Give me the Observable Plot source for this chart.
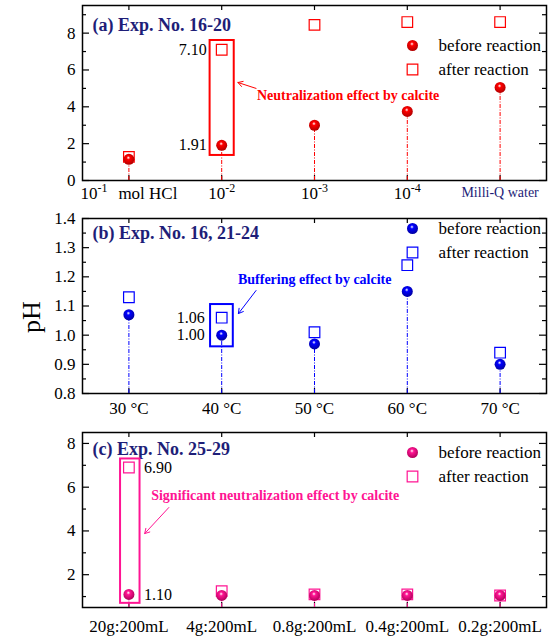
<!DOCTYPE html>
<html><head><meta charset="utf-8">
<script src="https://cdn.jsdelivr.net/npm/d3@7"></script>
<script src="https://cdn.jsdelivr.net/npm/@observablehq/plot@0.6"></script>
<style>
body{margin:0;background:#fff;}
#wrap{position:relative;width:555px;height:639px;font-family:"Liberation Serif","Times New Roman",serif;}
.pan{position:absolute;left:0;}
#ylab{position:absolute;left:32px;top:317px;transform:translate(-50%,-50%) rotate(-90deg);font-size:26px;}
</style></head>
<body><div id="wrap"><div id="ylab">pH</div></div>
<script>
// ---- data ----
const aCats = ["10^-1|mol HCl", "10^-2", "10^-3", "10^-4", "Milli-Q water"];
const aBefore = [1.15, 1.91, 3.00, 3.75, 5.05];
const aAfter = [1.28, 7.10, 8.45, 8.60, 8.60];
const bCats = ["30 °C", "40 °C", "50 °C", "60 °C", "70 °C"];
const bBefore = [1.07, 1.00, 0.97, 1.15, 0.90];
const bAfter = [1.13, 1.06, 1.01, 1.24, 0.94];
const cCats = ["20g:200mL", "4g:200mL", "0.8g:200mL", "0.4g:200mL", "0.2g:200mL"];
const cBefore = [1.10, 1.05, 1.05, 1.05, 1.05];
const cAfter = [6.90, 1.25, 1.10, 1.10, 1.05];
const aYTicks = [0, 2, 4, 6, 8], aYMinor = [1, 3, 5, 7, 9];
const bYTicks = [0.8, 0.9, 1.0, 1.1, 1.2, 1.3, 1.4], bYMinor = [0.85, 0.95, 1.05, 1.15, 1.25, 1.35];
const cYTicks = [2, 4, 6, 8], cYMinor = [1, 3, 5, 7];
const titles = ["(a) Exp. No. 16-20", "(b) Exp. No. 16, 21-24", "(c) Exp. No. 25-29"];
const notes = ["Neutralization effect by calcite", "Buffering effect by calcite", "Significant neutralization effect by calcite"];

const FONT = '"Liberation Serif","Times New Roman",serif';
const NAVY = "#1e1e78";
const W = 555, ML = 82, MR = 9, PW = W - ML - MR, PH = 175;
const idx = [0, 1, 2, 3, 4];

function panel(o) {
  const marks = [
    Plot.frame({stroke: "black", strokeWidth: 1.5}),
    Plot.tickY(o.yTicks, {y: d => d, insetRight: PW - 7, stroke: "black", strokeWidth: 1.2}),
    Plot.tickY(o.yTicks, {y: d => d, insetLeft: PW - 7, stroke: "black", strokeWidth: 1.2}),
    Plot.tickY(o.yMinor, {y: d => d, insetRight: PW - 4, stroke: "black", strokeWidth: 1.2}),
    Plot.tickY(o.yMinor, {y: d => d, insetLeft: PW - 4, stroke: "black", strokeWidth: 1.2}),
    Plot.tickX(idx, {x: d => d, insetTop: PH - 5, stroke: "black", strokeWidth: 1.2}),
    Plot.tickX(idx, {x: d => d, insetBottom: PH - 5, stroke: "black", strokeWidth: 1.2}),
    Plot.axisY({ticks: o.yTicks, tickSize: 0, tickPadding: 7, fontSize: 17, tickFormat: o.yFmt, label: null}),
    Plot.axisX({ticks: o.xTicks, tickSize: 0, tickPadding: o.xPad, fontSize: 17, tickFormat: i => o.cats[i], label: null}),
    Plot.ruleX(idx, {x: i => i, y1: o.yDomain[0], y2: i => o.before[i], stroke: o.color, strokeWidth: 1, strokeDasharray: "4,1.5,1,1.5"}),
    Plot.dot(idx, {x: i => i, y: i => o.after[i], symbol: "square", r: 6, stroke: o.color, fill: "none", strokeWidth: 1.2}),
    Plot.dot(idx, {x: i => i, y: i => o.before[i], r: 5.5, fill: `url(#${o.grad})`, stroke: "none"}),
    Plot.text([o.title], {frameAnchor: "top-left", dx: 10, dy: o.titleDy, text: d => d, textAnchor: "start", lineAnchor: "middle", fontSize: 18, fontWeight: "bold", fill: NAVY}),
    Plot.dot([0], {frameAnchor: "top-right", dx: -134, dy: o.legDy, r: 5.5, fill: `url(#${o.grad})`, stroke: "none"}),
    Plot.dot([0], {frameAnchor: "top-right", dx: -134, dy: o.legDy + 24, symbol: "square", r: 6, stroke: o.color, fill: "none", strokeWidth: 1.2}),
    Plot.text(["before reaction"], {frameAnchor: "top-right", dx: -108, dy: o.legDy, text: d => d, textAnchor: "start", lineAnchor: "middle", fontSize: 17}),
    Plot.text(["after reaction"], {frameAnchor: "top-right", dx: -108, dy: o.legDy + 24, text: d => d, textAnchor: "start", lineAnchor: "middle", fontSize: 17}),
    ...o.extra
  ];
  const svg = Plot.plot({
    width: W, height: o.height, marginLeft: ML, marginRight: MR, marginTop: o.mt, marginBottom: o.mb,
    x: {type: "linear", domain: [-0.5, 4.5], axis: null, label: null},
    y: {domain: o.yDomain, axis: null, label: null},
    style: {fontFamily: FONT, fontSize: "17px", color: "black", background: "transparent", overflow: "visible"},
    marks
  });
  // sphere gradient
  const defs = d3.select(svg).insert("defs", ":first-child");
  const g = defs.append("radialGradient").attr("id", o.grad).attr("cx", "0.45").attr("cy", "0.4").attr("r", "0.6").attr("fx", "0.45").attr("fy", "0.35");
  g.append("stop").attr("offset", "0").attr("stop-color", "#ffffff");
  g.append("stop").attr("offset", "0.28").attr("stop-color", o.color);
  g.append("stop").attr("offset", "1").attr("stop-color", o.dark);
  // superscripts in tick labels
  d3.select(svg).selectAll("text").each(function () {
    const t = this.textContent;
    if (!t.includes("^")) return;
    const [base, rest] = t.split("^");
    const [sup, tail] = rest.split("|");
    const sel = d3.select(this);
    sel.selectAll("*").remove();
    this.textContent = "";
    sel.append("tspan").text(base);
    sel.append("tspan").attr("dy", -7).attr("font-size", 12).text(sup);
    if (tail) sel.append("tspan").attr("dy", 7).attr("dx", 11).text(tail);
  });
  const div = document.createElement("div");
  div.className = "pan";
  div.style.top = o.top + "px";
  div.appendChild(svg);
  document.getElementById("wrap").appendChild(div);
}

// panel a
panel({
  cats: aCats, before: aBefore, after: aAfter, color: "#ff0000", dark: "#b00000", grad: "gA",
  yDomain: [0, 9.5], yTicks: aYTicks, yMinor: aYMinor, yFmt: d => d, xTicks: [0, 1, 2, 3], xPad: 6,
  height: 205, mt: 5, mb: 25, top: 0, title: titles[0], titleDy: 20, legDy: 40,
  extra: [
    Plot.axisX({ticks: [4], tickSize: 0, tickPadding: 7, fontSize: 14, fill: NAVY, tickFormat: i => aCats[i], label: null}),
    Plot.rect([1], {x1: i => i - 0.125, x2: i => i + 0.135, y1: i => aBefore[i] - 0.55, y2: i => aAfter[i] + 0.5, stroke: "#ff0000", strokeWidth: 2, fill: "none"}),
    Plot.text([1], {x: i => i, y: i => aAfter[i], text: i => aAfter[i].toFixed(2), textAnchor: "end", dx: -15, fontSize: 16}),
    Plot.text([1], {x: i => i, y: i => aBefore[i], text: i => aBefore[i].toFixed(2), textAnchor: "end", dx: -15, fontSize: 16}),
    Plot.arrow([1], {x1: 1.37, y1: 5.0, x2: 1.175, y2: 5.32, stroke: "#ff0000", strokeWidth: 1, headLength: 8}),
    Plot.text([notes[0]], {x: 1.38, y: 4.6, text: d => d, textAnchor: "start", fontSize: 14, fontWeight: "bold", fill: "#ff0000"})
  ]
});

// panel b
panel({
  cats: bCats, before: bBefore, after: bAfter, color: "#0000ff", dark: "#0000a0", grad: "gB",
  yDomain: [0.8, 1.4], yTicks: bYTicks, yMinor: bYMinor, yFmt: d3.format(".1f"), xTicks: idx, xPad: 8,
  height: 215, mt: 18, mb: 22, top: 200, title: titles[1], titleDy: 15, legDy: 10,
  extra: [
    Plot.rect([1], {x1: i => i - 0.12, x2: i => i + 0.125, y1: i => bBefore[i] - 0.04, y2: i => bAfter[i] + 0.045, stroke: "#0000ff", strokeWidth: 2, fill: "none"}),
    Plot.text([1], {x: i => i, y: i => bAfter[i], text: i => bAfter[i].toFixed(2), textAnchor: "end", dx: -17, fontSize: 16}),
    Plot.text([1], {x: i => i, y: i => bBefore[i], text: i => bBefore[i].toFixed(2), textAnchor: "end", dx: -17, fontSize: 16}),
    Plot.arrow([1], {x1: 1.37, y1: 1.153, x2: 1.18, y2: 1.074, stroke: "#0000ff", strokeWidth: 1, headLength: 8}),
    Plot.text([notes[1]], {x: 1.175, y: 1.19, text: d => d, textAnchor: "start", fontSize: 14, fontWeight: "bold", fill: "#0000ff"})
  ]
});

// panel c
panel({
  cats: cCats, before: cBefore, after: cAfter, color: "#ff1493", dark: "#b0005a", grad: "gC",
  yDomain: [0.5, 8.5], yTicks: cYTicks, yMinor: cYMinor, yFmt: d => d, xTicks: idx, xPad: 12,
  height: 219, mt: 12, mb: 32, top: 420, title: titles[2], titleDy: 17, legDy: 20,
  extra: [
    Plot.rect([0], {x1: i => i - 0.09, x2: i => i + 0.12, y1: i => cBefore[i] - 0.41, y2: i => cAfter[i] + 0.39, stroke: "#ff1493", strokeWidth: 2, fill: "none"}),
    Plot.text([0], {x: i => i, y: i => cAfter[i], text: i => cAfter[i].toFixed(2), textAnchor: "start", dx: 15, fontSize: 16}),
    Plot.text([0], {x: i => i, y: i => cBefore[i], text: i => cBefore[i].toFixed(2), textAnchor: "start", dx: 15, fontSize: 16}),
    Plot.arrow([0], {x1: 0.43, y1: 5.07, x2: 0.17, y2: 3.88, stroke: "#ff1493", strokeWidth: 1, headLength: 8}),
    Plot.text([notes[2]], {x: 0.24, y: 5.62, text: d => d, textAnchor: "start", fontSize: 14, fontWeight: "bold", fill: "#ff1493"})
  ]
});
</script></body></html>
